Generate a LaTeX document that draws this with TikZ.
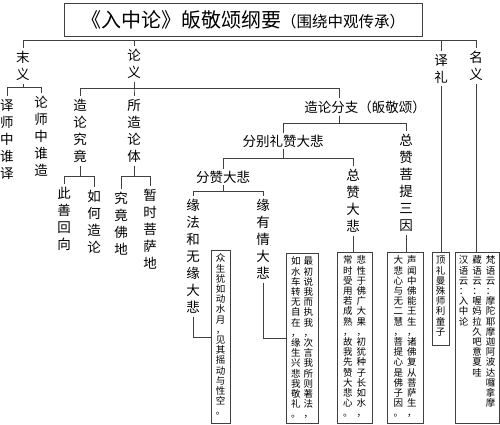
\documentclass[tikz,border=0pt]{standalone}
\usepackage{fontspec}
\newfontfamily\zhfont{Noto Sans CJK SC}

% one character per line, top-aligned
\newcommand\vtxt[1]{\vtop{\vtxtloop#1\relax}}
\def\vtxtloop#1{\ifx\relax#1\else\hbox{#1}\expandafter\vtxtloop\fi}

\begin{document}
\begin{tikzpicture}[x=1pt,y=-1pt,
    link/.style={draw=black!75, line width=0.7pt},
    vlab/.style={font=\zhfont\fontsize{13.5}{17}\selectfont, inner sep=3pt, anchor=north},
    hlab/.style={font=\zhfont\fontsize{13.5}{17}\selectfont, inner sep=2pt},
    verse/.style={draw=black!75, line width=0.7pt, inner sep=0pt, anchor=north,
        font=\zhfont\fontsize{9.5}{10.2}\selectfont, text height=11.6pt}]
\useasboundingbox (0,0) rectangle (500,425);

\node[draw=black!75, line width=0.7pt, minimum width=358pt, minimum height=33pt, inner sep=0pt] (title) at (243,19.5)
    {{\zhfont\fontsize{20}{20}\selectfont 《入中论》皈敬颂纲要}{\zhfont\fontsize{15.5}{16}\selectfont（围绕中观传承）}};

% first level
\coordinate (bar) at (0,40);
\node[vlab] (moyi) at (23,48) {\vtxt{末义}};
\node[vlab] (lunyi) at (134,46) {\vtxt{论义}};
\node[vlab] (yili) at (441,51) {\vtxt{译礼}};
\node[vlab] (mingyi) at (476,48) {\vtxt{名义}};
\draw[link] (moyi.north) -- (moyi.north |- bar) -- (mingyi.north |- bar) -- (mingyi.north);
\draw[link] (lunyi.north) -- (lunyi.north |- bar);
\draw[link] (yili.north) -- (yili.north |- bar);

% 末义
\node[vlab] (yishi) at (7,96) {\vtxt{译师中谁译}};
\node[vlab] (lunshi) at (41,93) {\vtxt{论师中谁造}};
\draw[link] (moyi.south) -- ++(0,4) -| (yishi.north);
\draw[link] (moyi.south) -- ++(0,4) -| (lunshi.north);

% 论义
\node[vlab] (zljj) at (80,96) {\vtxt{造论究竟}};
\node[vlab] (szlt) at (134,96) {\vtxt{所造论体}};
\node[hlab] (zlfz) at (365,107) {造论分支（皈敬颂）};
\draw[link] (lunyi.south) -- ++(0,7) -| (zljj.north);
\draw[link] (lunyi.south) -- ++(0,7) -| (szlt.north);
\draw[link] (lunyi.south) -- ++(0,7) -| ([xshift=-26pt]zlfz.north);

\node[vlab] (cishan) at (64,184) {\vtxt{此善回向}};
\node[vlab] (ruhe) at (94,187) {\vtxt{如何造论}};
\node[vlab] (jiujing) at (121,189) {\vtxt{究竟佛地}};
\node[vlab] (zanshi) at (150,186) {\vtxt{暂时菩萨地}};
\draw[link] (zljj.south) -- ++(0,11) -| (cishan.north);
\draw[link] (zljj.south) -- ++(0,11) -| (ruhe.north);
\draw[link] (szlt.south) -- ++(0,11) -| (jiujing.north);
\draw[link] (szlt.south) -- ++(0,11) -| (zanshi.north);

% 造论分支
\node[hlab] (fenbie) at (283,141) {分别礼赞大悲};
\node[vlab] (zong3) at (406,131) {\vtxt{总赞菩提三因}};
\draw[link] ([xshift=-26pt]zlfz.south) -- ++(0,8) -| (fenbie.north);
\draw[link] ([xshift=-26pt]zlfz.south) -- ++(0,8) -| (zong3.north);

\node[hlab] (fenzan) at (223,177) {分赞大悲};
\node[vlab] (zong2) at (353,166) {\vtxt{总赞大悲}};
\draw[link] (fenbie.south) -- ++(0,9) -| (fenzan.north);
\draw[link] (fenbie.south) -- ++(0,9) -| (zong2.north);

\node[vlab] (yuanfa) at (193,196) {\vtxt{缘法和无缘大悲}};
\node[vlab] (youqing) at (263,196) {\vtxt{缘有情大悲}};
\draw[link] (fenzan.south) -- ++(0,6) -| (yuanfa.north);
\draw[link] (fenzan.south) -- ++(0,6) -| (youqing.north);

% verses
\node[verse, minimum width=19pt, text depth=161.4pt] (box1) at (220.5,250)
    {\vtxt{众生犹如动水月，见其摇动与性空。}};
\node[verse, minimum width=32pt, text depth=158.4pt] (box2) at (302,253)
    {\vtxt{如水车转无自在，缘生兴悲我敬礼。}\hspace{3pt}\vtxt{最初说我而执我，次言我所则著法，}};
\node[verse, minimum width=35pt, text depth=159.4pt] (box3) at (354.5,252)
    {\vtxt{常时受用若成熟，故我先赞大悲心。}\hspace{4pt}\vtxt{悲性于佛广大果，初犹种子长如水，}};
\node[verse, minimum width=36pt, text depth=159.4pt] (box4) at (405,252)
    {\vtxt{大悲心与无二慧，菩提心是佛子因。}\hspace{4pt}\vtxt{声闻中佛能王生，诸佛复从菩萨生，}};
\node[verse, minimum width=17pt, text depth=81.4pt] (box5) at (440.5,252)
    {\vtxt{顶礼曼殊师利童子}};
\node[verse, minimum width=44pt, text depth=159.4pt] (box6) at (477,252)
    {\vtxt{汉语云：入中论}\hspace{4pt}\vtxt{藏语云：喔妈拉久吧意夏哇}\hspace{4pt}\vtxt{梵语云：摩陀耶摩迦阿波达囉拿摩}};

\draw[link] (yuanfa.south) |- (box1.west);
\draw[link] (youqing.south) |- (box2.west);
\draw[link] (zong2.south) -- (zong2.south |- box3.north);
\draw[link] (zong3.south) -- (zong3.south |- box4.north);
\draw[link] (yili.south) -- (yili.south |- box5.north);
\draw[link] (mingyi.south) -- (mingyi.south |- box6.north);
\end{tikzpicture}
\end{document}
